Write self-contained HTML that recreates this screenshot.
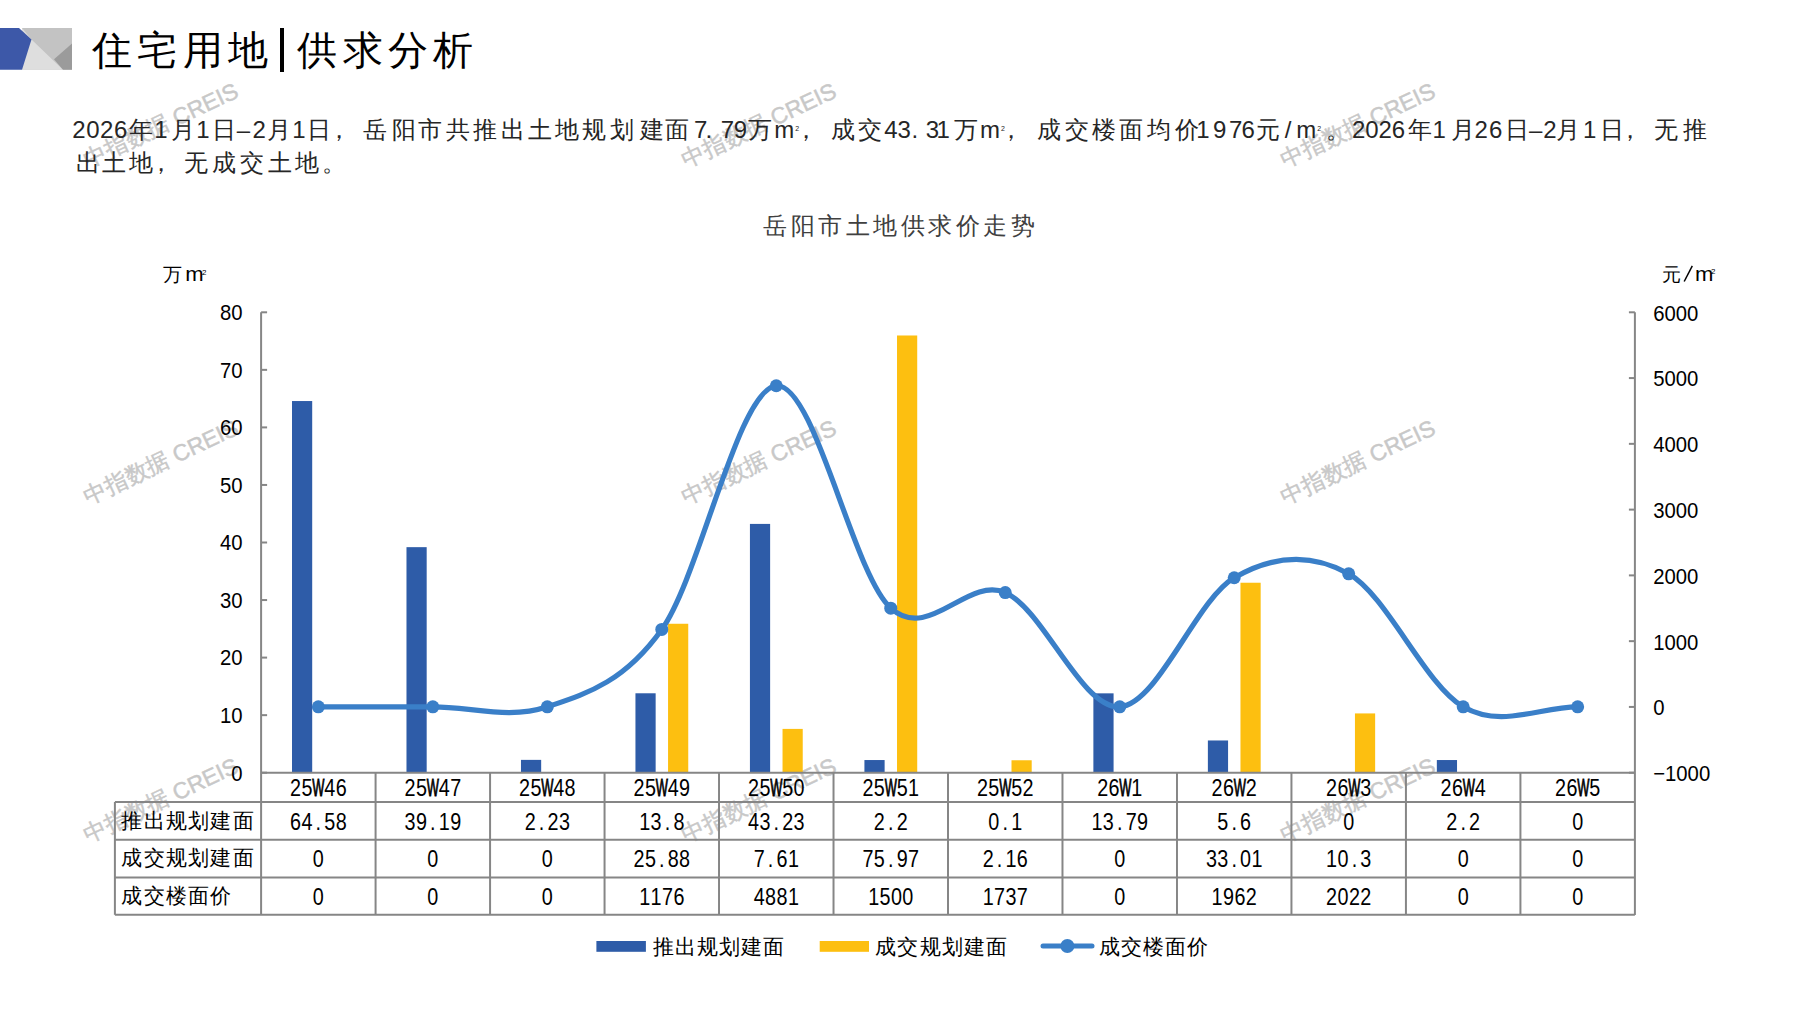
<!DOCTYPE html>
<html><head><meta charset="utf-8">
<style>
html,body{margin:0;padding:0;background:#fff;}
body{width:1797px;height:1010px;overflow:hidden;position:relative;font-family:"Liberation Sans", sans-serif;}
#logo{position:absolute;left:0;top:0;}
#title{position:absolute;left:92px;top:22px;font-size:40px;line-height:56px;color:#000;letter-spacing:5.3px;white-space:nowrap;}
#bar{position:absolute;left:279.5px;top:28px;width:4.5px;height:44px;background:#000;}
svg{position:absolute;left:0;top:0;}
</style></head><body>
<svg id="logo" width="80" height="80" viewBox="0 0 80 80">
<rect x="22" y="28" width="50" height="41.7" fill="#c3c3c3"/>
<polygon points="22,28 31.5,39.5 63,69.7 22,69.7" fill="#dedede"/>
<polygon points="54,59.3 72,43.4 72,69.7 63,69.7" fill="#9b9b9b"/>
<polygon points="0,28 19,28 31.5,39.5 22,69.7 0,69.7" fill="#3d58a8"/>
</svg>
<div id="title"><span>住宅用地</span><span style="display:inline-block;width:24px"></span><span>供求分析</span></div>
<div id="bar"></div>
<svg width="1797" height="1010" viewBox="0 0 1797 1010" font-family='"Liberation Sans", sans-serif'>
<text x="164.0" y="132.0" transform="rotate(-25 164.0 132.0)" text-anchor="middle" font-size="22.8" fill="#c8c8c8" stroke="#c8c8c8" stroke-width="0.45">中指数据 CREIS</text>
<text x="164.0" y="469.0" transform="rotate(-25 164.0 469.0)" text-anchor="middle" font-size="22.8" fill="#c8c8c8" stroke="#c8c8c8" stroke-width="0.45">中指数据 CREIS</text>
<text x="164.0" y="807.0" transform="rotate(-25 164.0 807.0)" text-anchor="middle" font-size="22.8" fill="#c8c8c8" stroke="#c8c8c8" stroke-width="0.45">中指数据 CREIS</text>
<text x="762.0" y="132.0" transform="rotate(-25 762.0 132.0)" text-anchor="middle" font-size="22.8" fill="#c8c8c8" stroke="#c8c8c8" stroke-width="0.45">中指数据 CREIS</text>
<text x="762.0" y="469.0" transform="rotate(-25 762.0 469.0)" text-anchor="middle" font-size="22.8" fill="#c8c8c8" stroke="#c8c8c8" stroke-width="0.45">中指数据 CREIS</text>
<text x="762.0" y="807.0" transform="rotate(-25 762.0 807.0)" text-anchor="middle" font-size="22.8" fill="#c8c8c8" stroke="#c8c8c8" stroke-width="0.45">中指数据 CREIS</text>
<text x="1361.0" y="132.0" transform="rotate(-25 1361.0 132.0)" text-anchor="middle" font-size="22.8" fill="#c8c8c8" stroke="#c8c8c8" stroke-width="0.45">中指数据 CREIS</text>
<text x="1361.0" y="469.0" transform="rotate(-25 1361.0 469.0)" text-anchor="middle" font-size="22.8" fill="#c8c8c8" stroke="#c8c8c8" stroke-width="0.45">中指数据 CREIS</text>
<text x="1361.0" y="807.0" transform="rotate(-25 1361.0 807.0)" text-anchor="middle" font-size="22.8" fill="#c8c8c8" stroke="#c8c8c8" stroke-width="0.45">中指数据 CREIS</text>
<rect x="292.00" y="401.04" width="20.2" height="371.66" fill="#2e5ca8"/>
<rect x="406.48" y="547.16" width="20.2" height="225.54" fill="#2e5ca8"/>
<rect x="520.97" y="759.87" width="20.2" height="12.83" fill="#2e5ca8"/>
<rect x="635.45" y="693.28" width="20.2" height="79.42" fill="#2e5ca8"/>
<rect x="668.05" y="623.76" width="20.2" height="148.94" fill="#fdbf10"/>
<rect x="749.93" y="523.91" width="20.2" height="248.79" fill="#2e5ca8"/>
<rect x="782.53" y="728.90" width="20.2" height="43.80" fill="#fdbf10"/>
<rect x="864.42" y="760.04" width="20.2" height="12.66" fill="#2e5ca8"/>
<rect x="897.02" y="335.49" width="20.2" height="437.21" fill="#fdbf10"/>
<rect x="978.90" y="772.12" width="20.2" height="0.58" fill="#2e5ca8"/>
<rect x="1011.50" y="760.27" width="20.2" height="12.43" fill="#fdbf10"/>
<rect x="1093.38" y="693.34" width="20.2" height="79.36" fill="#2e5ca8"/>
<rect x="1207.87" y="740.47" width="20.2" height="32.23" fill="#2e5ca8"/>
<rect x="1240.47" y="582.73" width="20.2" height="189.97" fill="#fdbf10"/>
<rect x="1354.95" y="713.42" width="20.2" height="59.28" fill="#fdbf10"/>
<rect x="1436.83" y="760.04" width="20.2" height="12.66" fill="#2e5ca8"/>
<path d="M318.34,706.80 C356.50,706.80 394.66,706.80 432.83,706.80 C470.99,706.80 509.15,719.69 547.31,706.80 C585.47,693.91 623.63,682.96 661.79,629.45 C699.95,575.95 738.11,389.32 776.28,385.77 C814.44,382.22 852.60,573.68 890.76,608.14 C928.92,642.61 967.08,576.11 1005.24,592.56 C1043.40,609.00 1081.56,709.27 1119.73,706.80 C1157.89,704.33 1196.05,599.92 1234.21,577.76 C1272.37,555.59 1310.53,552.30 1348.69,573.81 C1386.85,595.32 1425.01,684.64 1463.18,706.80 C1501.34,728.96 1539.50,706.80 1577.66,706.80" fill="none" stroke="#3a7fc8" stroke-width="5.2" stroke-linecap="round" stroke-linejoin="round"/>
<circle cx="318.34" cy="706.80" r="6.5" fill="#3a7fc8"/>
<circle cx="432.83" cy="706.80" r="6.5" fill="#3a7fc8"/>
<circle cx="547.31" cy="706.80" r="6.5" fill="#3a7fc8"/>
<circle cx="661.79" cy="629.45" r="6.5" fill="#3a7fc8"/>
<circle cx="776.28" cy="385.77" r="6.5" fill="#3a7fc8"/>
<circle cx="890.76" cy="608.14" r="6.5" fill="#3a7fc8"/>
<circle cx="1005.24" cy="592.56" r="6.5" fill="#3a7fc8"/>
<circle cx="1119.73" cy="706.80" r="6.5" fill="#3a7fc8"/>
<circle cx="1234.21" cy="577.76" r="6.5" fill="#3a7fc8"/>
<circle cx="1348.69" cy="573.81" r="6.5" fill="#3a7fc8"/>
<circle cx="1463.18" cy="706.80" r="6.5" fill="#3a7fc8"/>
<circle cx="1577.66" cy="706.80" r="6.5" fill="#3a7fc8"/>
<g stroke="#868686" stroke-width="2" fill="none">
<line x1="261.1" y1="312.3" x2="261.1" y2="915"/>
<line x1="1634.9" y1="312.3" x2="1634.9" y2="915"/>
<line x1="261.1" y1="772.70" x2="267.1" y2="772.70"/>
<line x1="261.1" y1="715.15" x2="267.1" y2="715.15"/>
<line x1="261.1" y1="657.60" x2="267.1" y2="657.60"/>
<line x1="261.1" y1="600.05" x2="267.1" y2="600.05"/>
<line x1="261.1" y1="542.50" x2="267.1" y2="542.50"/>
<line x1="261.1" y1="484.95" x2="267.1" y2="484.95"/>
<line x1="261.1" y1="427.40" x2="267.1" y2="427.40"/>
<line x1="261.1" y1="369.85" x2="267.1" y2="369.85"/>
<line x1="261.1" y1="312.30" x2="267.1" y2="312.30"/>
<line x1="1628.9" y1="772.70" x2="1634.9" y2="772.70"/>
<line x1="1628.9" y1="706.93" x2="1634.9" y2="706.93"/>
<line x1="1628.9" y1="641.16" x2="1634.9" y2="641.16"/>
<line x1="1628.9" y1="575.39" x2="1634.9" y2="575.39"/>
<line x1="1628.9" y1="509.61" x2="1634.9" y2="509.61"/>
<line x1="1628.9" y1="443.84" x2="1634.9" y2="443.84"/>
<line x1="1628.9" y1="378.07" x2="1634.9" y2="378.07"/>
<line x1="1628.9" y1="312.30" x2="1634.9" y2="312.30"/>
<line x1="261.1" y1="772.7" x2="1634.9" y2="772.7"/>
<line x1="114.9" y1="802.0" x2="1634.9" y2="802.0"/>
<line x1="114.9" y1="839.8" x2="1634.9" y2="839.8"/>
<line x1="114.9" y1="877.4" x2="1634.9" y2="877.4"/>
<line x1="114.9" y1="914.8" x2="1634.9" y2="914.8"/>
<line x1="114.9" y1="802" x2="114.9" y2="914.8"/>
<line x1="375.58" y1="772.7" x2="375.58" y2="914.8"/>
<line x1="490.07" y1="772.7" x2="490.07" y2="914.8"/>
<line x1="604.55" y1="772.7" x2="604.55" y2="914.8"/>
<line x1="719.03" y1="772.7" x2="719.03" y2="914.8"/>
<line x1="833.52" y1="772.7" x2="833.52" y2="914.8"/>
<line x1="948.00" y1="772.7" x2="948.00" y2="914.8"/>
<line x1="1062.48" y1="772.7" x2="1062.48" y2="914.8"/>
<line x1="1176.97" y1="772.7" x2="1176.97" y2="914.8"/>
<line x1="1291.45" y1="772.7" x2="1291.45" y2="914.8"/>
<line x1="1405.93" y1="772.7" x2="1405.93" y2="914.8"/>
<line x1="1520.42" y1="772.7" x2="1520.42" y2="914.8"/>
</g>
<g font-size="22.3" fill="#000">
<text transform="translate(242.6 780.5) scale(0.91 1)" text-anchor="end">0</text>
<text transform="translate(242.6 723.0) scale(0.91 1)" text-anchor="end">10</text>
<text transform="translate(242.6 665.4) scale(0.91 1)" text-anchor="end">20</text>
<text transform="translate(242.6 607.8) scale(0.91 1)" text-anchor="end">30</text>
<text transform="translate(242.6 550.3) scale(0.91 1)" text-anchor="end">40</text>
<text transform="translate(242.6 492.8) scale(0.91 1)" text-anchor="end">50</text>
<text transform="translate(242.6 435.2) scale(0.91 1)" text-anchor="end">60</text>
<text transform="translate(242.6 377.6) scale(0.91 1)" text-anchor="end">70</text>
<text transform="translate(242.6 320.1) scale(0.91 1)" text-anchor="end">80</text>
<text transform="translate(1653.2 781.1) scale(0.91 1)" text-anchor="start">−1000</text>
<text transform="translate(1653.2 715.3) scale(0.91 1)" text-anchor="start">0</text>
<text transform="translate(1653.2 649.5) scale(0.91 1)" text-anchor="start">1000</text>
<text transform="translate(1653.2 583.8) scale(0.91 1)" text-anchor="start">2000</text>
<text transform="translate(1653.2 518.0) scale(0.91 1)" text-anchor="start">3000</text>
<text transform="translate(1653.2 452.2) scale(0.91 1)" text-anchor="start">4000</text>
<text transform="translate(1653.2 386.4) scale(0.91 1)" text-anchor="start">5000</text>
<text transform="translate(1653.2 320.7) scale(0.91 1)" text-anchor="start">6000</text>
</g>
<g font-size="23.0" fill="#000" text-anchor="middle">
<text transform="translate(295.54 795.6) scale(0.86 1)">2</text>
<text transform="translate(306.94 795.6) scale(0.86 1)">5</text>
<text transform="translate(318.34 795.6) scale(0.56 1)" stroke="#000" stroke-width="0.9">W</text>
<text transform="translate(329.74 795.6) scale(0.86 1)">4</text>
<text transform="translate(341.14 795.6) scale(0.86 1)">6</text>
<text transform="translate(410.03 795.6) scale(0.86 1)">2</text>
<text transform="translate(421.43 795.6) scale(0.86 1)">5</text>
<text transform="translate(432.83 795.6) scale(0.56 1)" stroke="#000" stroke-width="0.9">W</text>
<text transform="translate(444.23 795.6) scale(0.86 1)">4</text>
<text transform="translate(455.63 795.6) scale(0.86 1)">7</text>
<text transform="translate(524.51 795.6) scale(0.86 1)">2</text>
<text transform="translate(535.91 795.6) scale(0.86 1)">5</text>
<text transform="translate(547.31 795.6) scale(0.56 1)" stroke="#000" stroke-width="0.9">W</text>
<text transform="translate(558.71 795.6) scale(0.86 1)">4</text>
<text transform="translate(570.11 795.6) scale(0.86 1)">8</text>
<text transform="translate(638.99 795.6) scale(0.86 1)">2</text>
<text transform="translate(650.39 795.6) scale(0.86 1)">5</text>
<text transform="translate(661.79 795.6) scale(0.56 1)" stroke="#000" stroke-width="0.9">W</text>
<text transform="translate(673.19 795.6) scale(0.86 1)">4</text>
<text transform="translate(684.59 795.6) scale(0.86 1)">9</text>
<text transform="translate(753.48 795.6) scale(0.86 1)">2</text>
<text transform="translate(764.88 795.6) scale(0.86 1)">5</text>
<text transform="translate(776.28 795.6) scale(0.56 1)" stroke="#000" stroke-width="0.9">W</text>
<text transform="translate(787.68 795.6) scale(0.86 1)">5</text>
<text transform="translate(799.08 795.6) scale(0.86 1)">0</text>
<text transform="translate(867.96 795.6) scale(0.86 1)">2</text>
<text transform="translate(879.36 795.6) scale(0.86 1)">5</text>
<text transform="translate(890.76 795.6) scale(0.56 1)" stroke="#000" stroke-width="0.9">W</text>
<text transform="translate(902.16 795.6) scale(0.86 1)">5</text>
<text transform="translate(913.56 795.6) scale(0.86 1)">1</text>
<text transform="translate(982.44 795.6) scale(0.86 1)">2</text>
<text transform="translate(993.84 795.6) scale(0.86 1)">5</text>
<text transform="translate(1005.24 795.6) scale(0.56 1)" stroke="#000" stroke-width="0.9">W</text>
<text transform="translate(1016.64 795.6) scale(0.86 1)">5</text>
<text transform="translate(1028.04 795.6) scale(0.86 1)">2</text>
<text transform="translate(1102.63 795.6) scale(0.86 1)">2</text>
<text transform="translate(1114.03 795.6) scale(0.86 1)">6</text>
<text transform="translate(1125.43 795.6) scale(0.56 1)" stroke="#000" stroke-width="0.9">W</text>
<text transform="translate(1136.83 795.6) scale(0.86 1)">1</text>
<text transform="translate(1217.11 795.6) scale(0.86 1)">2</text>
<text transform="translate(1228.51 795.6) scale(0.86 1)">6</text>
<text transform="translate(1239.91 795.6) scale(0.56 1)" stroke="#000" stroke-width="0.9">W</text>
<text transform="translate(1251.31 795.6) scale(0.86 1)">2</text>
<text transform="translate(1331.59 795.6) scale(0.86 1)">2</text>
<text transform="translate(1342.99 795.6) scale(0.86 1)">6</text>
<text transform="translate(1354.39 795.6) scale(0.56 1)" stroke="#000" stroke-width="0.9">W</text>
<text transform="translate(1365.79 795.6) scale(0.86 1)">3</text>
<text transform="translate(1446.08 795.6) scale(0.86 1)">2</text>
<text transform="translate(1457.48 795.6) scale(0.86 1)">6</text>
<text transform="translate(1468.88 795.6) scale(0.56 1)" stroke="#000" stroke-width="0.9">W</text>
<text transform="translate(1480.28 795.6) scale(0.86 1)">4</text>
<text transform="translate(1560.56 795.6) scale(0.86 1)">2</text>
<text transform="translate(1571.96 795.6) scale(0.86 1)">6</text>
<text transform="translate(1583.36 795.6) scale(0.56 1)" stroke="#000" stroke-width="0.9">W</text>
<text transform="translate(1594.76 795.6) scale(0.86 1)">5</text>
<text transform="translate(295.54 829.8) scale(0.86 1)">6</text>
<text transform="translate(306.94 829.8) scale(0.86 1)">4</text>
<text transform="translate(318.34 829.8) scale(0.86 1)">.</text>
<text transform="translate(329.74 829.8) scale(0.86 1)">5</text>
<text transform="translate(341.14 829.8) scale(0.86 1)">8</text>
<text transform="translate(410.03 829.8) scale(0.86 1)">3</text>
<text transform="translate(421.43 829.8) scale(0.86 1)">9</text>
<text transform="translate(432.83 829.8) scale(0.86 1)">.</text>
<text transform="translate(444.23 829.8) scale(0.86 1)">1</text>
<text transform="translate(455.63 829.8) scale(0.86 1)">9</text>
<text transform="translate(530.21 829.8) scale(0.86 1)">2</text>
<text transform="translate(541.61 829.8) scale(0.86 1)">.</text>
<text transform="translate(553.01 829.8) scale(0.86 1)">2</text>
<text transform="translate(564.41 829.8) scale(0.86 1)">3</text>
<text transform="translate(644.69 829.8) scale(0.86 1)">1</text>
<text transform="translate(656.09 829.8) scale(0.86 1)">3</text>
<text transform="translate(667.49 829.8) scale(0.86 1)">.</text>
<text transform="translate(678.89 829.8) scale(0.86 1)">8</text>
<text transform="translate(753.48 829.8) scale(0.86 1)">4</text>
<text transform="translate(764.88 829.8) scale(0.86 1)">3</text>
<text transform="translate(776.28 829.8) scale(0.86 1)">.</text>
<text transform="translate(787.68 829.8) scale(0.86 1)">2</text>
<text transform="translate(799.08 829.8) scale(0.86 1)">3</text>
<text transform="translate(879.36 829.8) scale(0.86 1)">2</text>
<text transform="translate(890.76 829.8) scale(0.86 1)">.</text>
<text transform="translate(902.16 829.8) scale(0.86 1)">2</text>
<text transform="translate(993.84 829.8) scale(0.86 1)">0</text>
<text transform="translate(1005.24 829.8) scale(0.86 1)">.</text>
<text transform="translate(1016.64 829.8) scale(0.86 1)">1</text>
<text transform="translate(1096.93 829.8) scale(0.86 1)">1</text>
<text transform="translate(1108.33 829.8) scale(0.86 1)">3</text>
<text transform="translate(1119.73 829.8) scale(0.86 1)">.</text>
<text transform="translate(1131.13 829.8) scale(0.86 1)">7</text>
<text transform="translate(1142.53 829.8) scale(0.86 1)">9</text>
<text transform="translate(1222.81 829.8) scale(0.86 1)">5</text>
<text transform="translate(1234.21 829.8) scale(0.86 1)">.</text>
<text transform="translate(1245.61 829.8) scale(0.86 1)">6</text>
<text transform="translate(1348.69 829.8) scale(0.86 1)">0</text>
<text transform="translate(1451.78 829.8) scale(0.86 1)">2</text>
<text transform="translate(1463.18 829.8) scale(0.86 1)">.</text>
<text transform="translate(1474.58 829.8) scale(0.86 1)">2</text>
<text transform="translate(1577.66 829.8) scale(0.86 1)">0</text>
<text transform="translate(318.34 867.4) scale(0.86 1)">0</text>
<text transform="translate(432.83 867.4) scale(0.86 1)">0</text>
<text transform="translate(547.31 867.4) scale(0.86 1)">0</text>
<text transform="translate(638.99 867.4) scale(0.86 1)">2</text>
<text transform="translate(650.39 867.4) scale(0.86 1)">5</text>
<text transform="translate(661.79 867.4) scale(0.86 1)">.</text>
<text transform="translate(673.19 867.4) scale(0.86 1)">8</text>
<text transform="translate(684.59 867.4) scale(0.86 1)">8</text>
<text transform="translate(759.18 867.4) scale(0.86 1)">7</text>
<text transform="translate(770.58 867.4) scale(0.86 1)">.</text>
<text transform="translate(781.98 867.4) scale(0.86 1)">6</text>
<text transform="translate(793.38 867.4) scale(0.86 1)">1</text>
<text transform="translate(867.96 867.4) scale(0.86 1)">7</text>
<text transform="translate(879.36 867.4) scale(0.86 1)">5</text>
<text transform="translate(890.76 867.4) scale(0.86 1)">.</text>
<text transform="translate(902.16 867.4) scale(0.86 1)">9</text>
<text transform="translate(913.56 867.4) scale(0.86 1)">7</text>
<text transform="translate(988.14 867.4) scale(0.86 1)">2</text>
<text transform="translate(999.54 867.4) scale(0.86 1)">.</text>
<text transform="translate(1010.94 867.4) scale(0.86 1)">1</text>
<text transform="translate(1022.34 867.4) scale(0.86 1)">6</text>
<text transform="translate(1119.73 867.4) scale(0.86 1)">0</text>
<text transform="translate(1211.41 867.4) scale(0.86 1)">3</text>
<text transform="translate(1222.81 867.4) scale(0.86 1)">3</text>
<text transform="translate(1234.21 867.4) scale(0.86 1)">.</text>
<text transform="translate(1245.61 867.4) scale(0.86 1)">0</text>
<text transform="translate(1257.01 867.4) scale(0.86 1)">1</text>
<text transform="translate(1331.59 867.4) scale(0.86 1)">1</text>
<text transform="translate(1342.99 867.4) scale(0.86 1)">0</text>
<text transform="translate(1354.39 867.4) scale(0.86 1)">.</text>
<text transform="translate(1365.79 867.4) scale(0.86 1)">3</text>
<text transform="translate(1463.18 867.4) scale(0.86 1)">0</text>
<text transform="translate(1577.66 867.4) scale(0.86 1)">0</text>
<text transform="translate(318.34 905.0) scale(0.86 1)">0</text>
<text transform="translate(432.83 905.0) scale(0.86 1)">0</text>
<text transform="translate(547.31 905.0) scale(0.86 1)">0</text>
<text transform="translate(644.69 905.0) scale(0.86 1)">1</text>
<text transform="translate(656.09 905.0) scale(0.86 1)">1</text>
<text transform="translate(667.49 905.0) scale(0.86 1)">7</text>
<text transform="translate(678.89 905.0) scale(0.86 1)">6</text>
<text transform="translate(759.18 905.0) scale(0.86 1)">4</text>
<text transform="translate(770.58 905.0) scale(0.86 1)">8</text>
<text transform="translate(781.98 905.0) scale(0.86 1)">8</text>
<text transform="translate(793.38 905.0) scale(0.86 1)">1</text>
<text transform="translate(873.66 905.0) scale(0.86 1)">1</text>
<text transform="translate(885.06 905.0) scale(0.86 1)">5</text>
<text transform="translate(896.46 905.0) scale(0.86 1)">0</text>
<text transform="translate(907.86 905.0) scale(0.86 1)">0</text>
<text transform="translate(988.14 905.0) scale(0.86 1)">1</text>
<text transform="translate(999.54 905.0) scale(0.86 1)">7</text>
<text transform="translate(1010.94 905.0) scale(0.86 1)">3</text>
<text transform="translate(1022.34 905.0) scale(0.86 1)">7</text>
<text transform="translate(1119.73 905.0) scale(0.86 1)">0</text>
<text transform="translate(1217.11 905.0) scale(0.86 1)">1</text>
<text transform="translate(1228.51 905.0) scale(0.86 1)">9</text>
<text transform="translate(1239.91 905.0) scale(0.86 1)">6</text>
<text transform="translate(1251.31 905.0) scale(0.86 1)">2</text>
<text transform="translate(1331.59 905.0) scale(0.86 1)">2</text>
<text transform="translate(1342.99 905.0) scale(0.86 1)">0</text>
<text transform="translate(1354.39 905.0) scale(0.86 1)">2</text>
<text transform="translate(1365.79 905.0) scale(0.86 1)">2</text>
<text transform="translate(1463.18 905.0) scale(0.86 1)">0</text>
<text transform="translate(1577.66 905.0) scale(0.86 1)">0</text>
</g>
<g font-size="21" fill="#000">
<text x="121.3" y="827.7" letter-spacing="1.3">推出规划建面</text>
<text x="121.3" y="865.3" letter-spacing="1.3">成交规划建面</text>
<text x="121.3" y="902.9" letter-spacing="1.3">成交楼面价</text>
</g>
<rect x="596.4" y="941" width="49.5" height="10.8" fill="#2e5ca8"/>
<rect x="819.7" y="941" width="49.3" height="10.8" fill="#fdbf10"/>
<line x1="1043" y1="946" x2="1092" y2="946" stroke="#3a7fc8" stroke-width="5" stroke-linecap="round"/>
<circle cx="1067.4" cy="946" r="7" fill="#3a7fc8"/>
<g font-size="21" fill="#000">
<text x="652.5" y="953.5" letter-spacing="1.2">推出规划建面</text>
<text x="875.2" y="953.5" letter-spacing="1.2">成交规划建面</text>
<text x="1098.5" y="953.5" letter-spacing="1.2">成交楼面价</text>
</g>
<text x="763" y="234" font-size="24" fill="#404040" letter-spacing="3.5">岳阳市土地供求价走势</text>
<text x="163" y="280.5" font-size="19" fill="#000">万</text>
<text transform="translate(185.3 281) scale(1.05 1)" font-size="21" fill="#000">m</text>
<text x="202" y="274.5" font-size="8" fill="#000">2</text>
<text x="1662" y="280.5" font-size="19" fill="#000">元</text>
<line x1="1684.2" y1="281.5" x2="1692.3" y2="265.8" stroke="#000" stroke-width="1.5"/>
<text transform="translate(1695 281) scale(1.05 1)" font-size="21" fill="#000">m</text>
<text x="1711" y="273.5" font-size="8" fill="#000">2</text>
<text x="78.90 92.90 106.80 120.80 140.55 161.00 182.85 203.00 224.20 243.45 259.25 278.75 299.00 319.40 338.50 374.80 403.50 429.75 457.85 485.35 513.45 540.35 567.30 593.95 622.30 651.50 677.25 700.75 708.85 727.50 740.50 759.75 784.15 806.10 842.80 870.25 890.85 904.10 914.75 932.50 943.10 966.35 989.90 1011.40 1048.70 1076.60 1103.80 1131.25 1158.95 1186.60 1203.00 1219.80 1235.70 1248.20 1268.35 1288.15 1306.35 1337.75 1358.70 1372.00 1385.20 1398.50 1419.85 1439.30 1462.50 1481.30 1495.80 1516.50 1535.65 1549.85 1568.25 1589.60 1611.70 1630.30 1665.60 1694.70" y="138.4" font-size="24" fill="#262626" text-anchor="middle">2026年1月1日–2月1日，岳阳市共推出土地规划建面7.79万m，成交43.31万m，成交楼面均价1976元/m。2026年1月26日–2月1日，无推</text>
<text x="797.10" y="130.6" font-size="7" fill="#262626" text-anchor="middle">2</text>
<text x="1003.00" y="130.6" font-size="7" fill="#262626" text-anchor="middle">2</text>
<text x="1319.20" y="130.6" font-size="7" fill="#262626" text-anchor="middle">2</text>
<text x="88.20 114.35 141.40 160.50 195.95 224.05 251.95 279.60 307.10 334.10" y="170.5" font-size="24" fill="#262626" text-anchor="middle">出土地，无成交土地。</text>

</svg>
</body></html>
